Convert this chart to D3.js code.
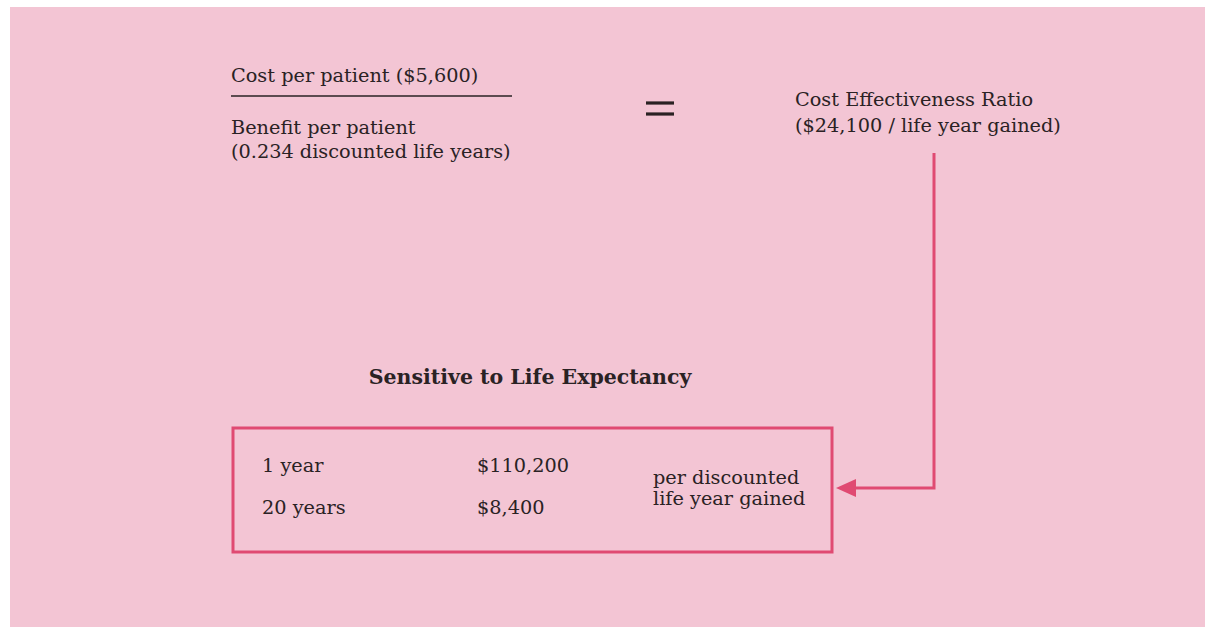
<!DOCTYPE html>
<html><head><meta charset="utf-8">
<script src="https://cdn.jsdelivr.net/npm/d3@7"></script>
<style>
html,body{margin:0;padding:0;background:#fff;}
svg{display:block;}
text{font-family:"DejaVu Serif","Liberation Serif",serif;fill:#2a2224;}
</style></head>
<body>
<svg id="c" width="1205" height="627"></svg>
<script>
const costPerPatient = [5600];
const benefitPerPatient = [0.234];
const ratioValue = [24100];
const scenarioLabels = ["1 year", "20 years"];
const scenarioValues = [110200, 8400];
const unitLines = ["per discounted", "life year gained"];

const svg = d3.select("#c");
const W = 1205, H = 627;
const pink = "#f3c5d4", red = "#e04a72";
const money = d3.format("$,");

svg.append("rect").attr("x", 10).attr("y", 7).attr("width", W - 10).attr("height", H - 7).attr("fill", pink);

// Fraction
const fs = 19.3;
svg.append("text").attr("x", 231).attr("y", 82).attr("font-size", fs)
  .text(`Cost per patient (${money(costPerPatient[0])})`);
svg.append("line").attr("x1", 231).attr("x2", 512).attr("y1", 96).attr("y2", 96)
  .attr("stroke", "#2a2224").attr("stroke-width", 1.6);
svg.append("text").attr("x", 231).attr("y", 134).attr("font-size", fs).text("Benefit per patient");
svg.append("text").attr("x", 231).attr("y", 158).attr("font-size", fs)
  .text(`(${d3.format(".3f")(benefitPerPatient[0])} discounted life years)`);

// Equals sign
[103, 114].forEach(y => svg.append("rect").attr("x", 646).attr("y", y - 1.6).attr("width", 28).attr("height", 3.2).attr("fill", "#2a2224"));

svg.append("text").attr("x", 795).attr("y", 106).attr("font-size", fs).text("Cost Effectiveness Ratio");
svg.append("text").attr("x", 795).attr("y", 132).attr("font-size", fs)
  .text(`(${money(ratioValue[0])} / life year gained)`);

// Connector arrow
svg.append("path").attr("d", "M934,153 L934,488 L852,488")
  .attr("fill", "none").attr("stroke", red).attr("stroke-width", 3);
svg.append("path").attr("d", "M836,488 L856,479 L856,497 Z").attr("fill", red);

// Title
svg.append("text").attr("x", 530).attr("y", 384).attr("text-anchor", "middle")
  .attr("font-size", 20.5).attr("font-weight", "bold").text("Sensitive to Life Expectancy");

// Box
svg.append("rect").attr("x", 233).attr("y", 428).attr("width", 599).attr("height", 124)
  .attr("fill", "none").attr("stroke", red).attr("stroke-width", 3);

const rowY = d3.scalePoint().domain(scenarioLabels).range([472, 514]);
const g = svg.append("g");
g.selectAll("text.lab").data(scenarioLabels).join("text").attr("class", "lab")
  .attr("x", 262).attr("y", d => rowY(d)).attr("font-size", fs).text(d => d);
g.selectAll("text.val").data(scenarioValues).join("text").attr("class", "val")
  .attr("x", 477).attr("y", (d, i) => rowY(scenarioLabels[i])).attr("font-size", fs).text(d => money(d));
g.selectAll("text.unit").data(unitLines).join("text").attr("class", "unit")
  .attr("x", 653).attr("y", (d, i) => 484 + i * 21).attr("font-size", fs).text(d => d);
</script>
</body></html>
